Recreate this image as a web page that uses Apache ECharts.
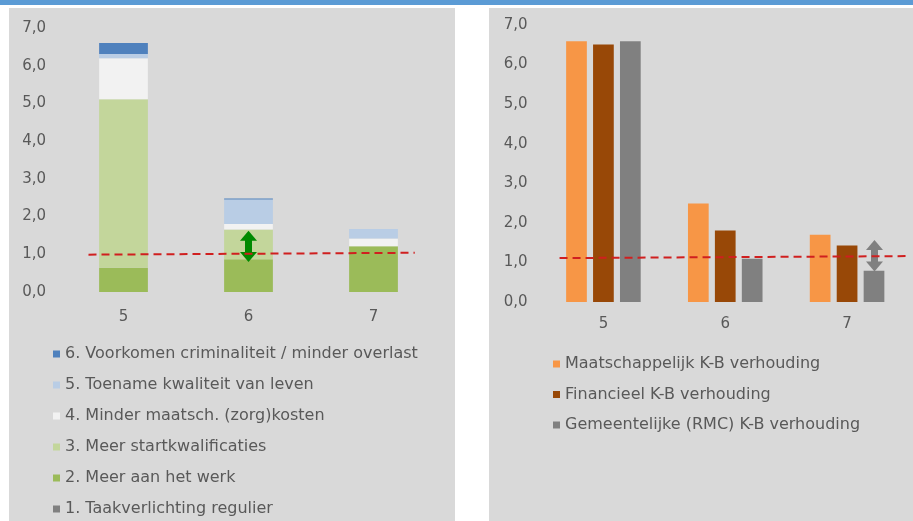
<!DOCTYPE html>
<html><head><meta charset="utf-8">
<script src="https://cdn.jsdelivr.net/npm/echarts@6/dist/echarts.min.js"></script>
<style>
html,body{margin:0;padding:0;background:#fff;width:913px;height:521px;overflow:hidden}
#band{position:absolute;left:0;top:0;width:913px;height:5px;background:#5b9bd5}
#pl{position:absolute;left:9px;top:8px;width:446px;height:513px;background:#d9d9d9;overflow:hidden}
#pr{position:absolute;left:489px;top:8px;width:424px;height:513px;background:#d9d9d9;overflow:hidden}
#cl{position:absolute;left:0;top:0;width:446px;height:600px}
#cr{position:absolute;left:0;top:0;width:424px;height:600px}
</style></head><body>
<div id="band"></div>
<div id="pl"><div id="cl"></div></div>
<div id="pr"><div id="cr"></div></div>
<script>
// ---- data: left chart ----
const categories = ['5', '6', '7'];
const yTicks = [0, 1, 2, 3, 4, 5, 6, 7];
const s1Taak = [0, 0, 0];
const s2Werk = [0.64, 0.87, 1.21];
const s3Start = [4.47, 0.79, 0];
const s4Kosten = [1.09, 0.14, 0.21];
const s5Leven = [0.11, 0.65, 0.25];
const s6Crim = [0.29, 0.03, 0];
const leftNames = ['1. Taakverlichting regulier', '2. Meer aan het werk', '3. Meer startkwalificaties',
  '4. Minder maatsch. (zorg)kosten', '5. Toename kwaliteit van leven', '6. Voorkomen criminaliteit / minder overlast'];
const leftRefLine = [[-0.28, 0.99], [2.33, 1.04]];
const greenArrow = [[1, 0.93], [1, 1.49]];      // shaft ends (heads extend beyond)
// ---- data: right chart ----
const maatsch = [6.59, 2.49, 1.70];
const financ = [6.51, 1.81, 1.43];
const gemeente = [6.59, 1.09, 0.79];
const rightNames = ['Maatschappelijk K-B verhouding', 'Financieel K-B verhouding', 'Gemeentelijke (RMC) K-B verhouding'];
const rightRefLine = [[-0.36, 1.11], [2.5, 1.16]];
const grayArrow = [[2.225, 0.90], [2.225, 1.44]];

const txt = '#595959';
const axisFont = '"DejaVu Sans", "Liberation Sans", Arial, sans-serif';
const fmt = v => v.toFixed(1).replace('.', ',');

function yAxis() {
  return { type: 'value', min: yTicks[0], max: yTicks[yTicks.length - 1], interval: 1,
    axisLine: { show: false }, axisTick: { show: false }, splitLine: { show: false },
    axisLabel: { color: txt, fontSize: 15, fontFamily: axisFont, margin: 15, formatter: fmt } };
}
function xAxes(margin) {
  return [
    { type: 'category', data: categories, axisLine: { show: false }, axisTick: { show: false },
      axisLabel: { color: txt, fontSize: 15, fontFamily: axisFont, margin: margin } },
    { type: 'value', min: -0.5, max: 2.5, show: false }
  ];
}
function refSeries(data) {
  return { type: 'line', xAxisIndex: 1, data: data, symbol: 'none', silent: true, clip: false,
    lineStyle: { color: '#d01f1f', width: 2, type: [8, 5] }, z: 5 };
}
function arrowSeries(data, color) {
  return { type: 'line', xAxisIndex: 1, data: [], symbol: 'none', silent: true,
    markLine: { silent: true, symbol: ['triangle', 'triangle'], symbolSize: [17, 10], label: { show: false },
      lineStyle: { color: color, width: 7, type: 'solid', opacity: 1 },
      itemStyle: { color: color },
      data: [[{ coord: data[0] }, { coord: data[1] }]] }, z: 6 };
}
function legend(names, left, top, gap) {
  return { orient: 'vertical', left: left, top: top, padding: 0, icon: 'rect',
    itemWidth: 7, itemHeight: 7, itemGap: gap, data: names,
    textStyle: { color: txt, fontSize: 16, fontFamily: axisFont, lineHeight: 20 } };
}

// ---- left chart ----
const cl = echarts.init(document.getElementById('cl'));
const leftColors = ['#808080', '#9bbb59', '#c3d69b', '#f2f2f2', '#b9cde5', '#4f81bd'];
const leftVals = [s1Taak, s2Werk, s3Start, s4Kosten, s5Leven, s6Crim];
const leftSeries = leftVals.map((v, i) => ({
  name: leftNames[i], type: 'bar', stack: 'a', data: v, barWidth: '39%',
  itemStyle: { color: leftColors[i] }
}));
leftSeries.push(refSeries(leftRefLine));
leftSeries.push(arrowSeries(greenArrow, '#008a00'));
cl.setOption({
  animation: false,
  grid: { left: 52, top: 20, width: 375, height: 264 },
  xAxis: xAxes(18), yAxis: yAxis(),
  legend: legend(leftNames.slice().reverse(), 44, 336, 11),
  series: leftSeries
});

// ---- right chart ----
const cr = echarts.init(document.getElementById('cr'));
const rightColors = ['#f79646', '#984807', '#808080'];
const rightVals = [maatsch, financ, gemeente];
const rightSeries = rightVals.map((v, i) => ({
  name: rightNames[i], type: 'bar', data: v, barWidth: '17%', barGap: '30%',
  itemStyle: { color: rightColors[i] }
}));
rightSeries.push(refSeries(rightRefLine));
rightSeries.push(arrowSeries(grayArrow, '#808080'));
cr.setOption({
  animation: false,
  grid: { left: 53.5, top: 17, width: 365.5, height: 277 },
  xAxis: xAxes(15), yAxis: yAxis(),
  legend: legend(rightNames, 64, 346, 10.5),
  series: rightSeries
});
</script></body></html>
